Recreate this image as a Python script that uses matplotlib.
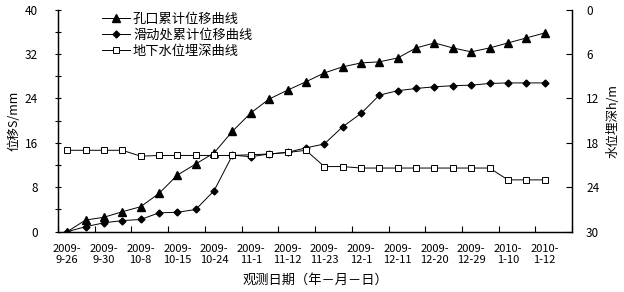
import numpy as np
import matplotlib
matplotlib.use('Agg')
import matplotlib.pyplot as plt
from matplotlib.ticker import MultipleLocator, FixedLocator

plt.rcParams['font.family'] = ['Noto Sans CJK SC', 'DejaVu Sans']
plt.rcParams['axes.unicode_minus'] = False

# tick labels (one every two observations)
tick_labels = ['2009-\n9-26', '2009-\n9-30', '2009-\n10-8', '2009-\n10-15',
               '2009-\n10-24', '2009-\n11-1', '2009-\n11-12', '2009-\n11-23',
               '2009-\n12-1', '2009-\n12-11', '2009-\n12-20', '2009-\n12-29',
               '2010-\n1-10', '2010-\n1-12']

# cumulative displacement at borehole mouth (mm)
orifice_disp = [0, 2.1, 2.6, 3.6, 4.5, 6.9, 10.2, 12.2, 14.2, 18.1,
                21.4, 23.9, 25.5, 27.0, 28.6, 29.7, 30.4, 30.6, 31.3, 33.1,
                34.0, 33.1, 32.4, 33.1, 34.0, 34.9, 35.8]

# cumulative displacement at sliding zone (mm)
slide_disp = [0, 0.9, 1.6, 2.0, 2.2, 3.4, 3.5, 4.0, 7.4, 13.8,
              13.5, 14.0, 14.3, 15.1, 15.8, 18.9, 21.3, 24.6, 25.4, 25.8,
              26.1, 26.3, 26.4, 26.7, 26.8, 26.8, 26.8]

# groundwater depth (m)
water_depth = [19.0, 19.0, 19.0, 19.0, 19.8, 19.7, 19.7, 19.7, 19.7, 19.7,
               19.6, 19.5, 19.3, 19.0, 21.2, 21.2, 21.4, 21.4, 21.4, 21.4,
               21.4, 21.4, 21.4, 21.4, 23.0, 23.0, 23.0]

n_slots = 28
x = np.arange(len(orifice_disp))

fig = plt.figure(figsize=(6.24, 2.92), dpi=100)
ax = fig.add_axes([0.093, 0.2065, 0.824, 0.7605])
ax2 = ax.twinx()

l1, = ax.plot(x, orifice_disp, color='black', lw=0.7, marker='^', ms=5.5,
              markerfacecolor='black', markeredgecolor='black')
l2, = ax.plot(x, slide_disp, color='black', lw=0.7, marker='D', ms=3.5,
              markerfacecolor='black', markeredgecolor='black')
l3, = ax2.plot(x, water_depth, color='black', lw=0.7, marker='s', ms=4,
               markerfacecolor='white', markeredgecolor='black', markeredgewidth=0.7)

ax.set_xlim(-0.5, n_slots - 0.5)
ax.set_ylim(0, 40)
ax.yaxis.set_major_locator(MultipleLocator(8))
ax.yaxis.set_minor_locator(MultipleLocator(4))
ax2.set_ylim(30, 0)
ax2.set_yticks([0, 6, 12, 18, 24, 30])

ax.set_xticks(np.arange(0, n_slots, 2))
ax.set_xticklabels(tick_labels, fontsize=8, linespacing=1.15)
ax.xaxis.set_minor_locator(FixedLocator(np.arange(-0.5, n_slots, 2)))
ax.tick_params(axis='x', which='major', length=0, pad=9)
ax.tick_params(axis='x', which='minor', direction='in', length=4, width=0.8)
ax.tick_params(axis='y', which='both', direction='inout', length=5, width=0.8,
               labelsize=8.5, pad=12)
ax2.tick_params(axis='y', direction='in', length=4, width=0.8,
                labelsize=8.5, pad=10)

for a in (ax, ax2):
    a.spines['top'].set_visible(False)
    for s in ('left', 'right', 'bottom'):
        a.spines[s].set_linewidth(0.9)

ax.set_ylabel('位移S/mm', fontsize=9, labelpad=3)
ax2.set_ylabel('水位埋深h/m', fontsize=9, labelpad=5)
ax.set_xlabel('观测日期（年－月－日）', fontsize=9.5, labelpad=6)

ax.legend([l1, l2, l3], ['孔口累计位移曲线', '滑动处累计位移曲线', '地下水位埋深曲线'],
          loc='upper left', bbox_to_anchor=(102 / 624, 1 - 13 / 292),
          bbox_transform=fig.transFigure, frameon=False, fontsize=9.5,
          handlelength=2.1, handletextpad=0.25, labelspacing=0.22,
          borderpad=0, borderaxespad=0)

fig.savefig('out.png', dpi=100)
